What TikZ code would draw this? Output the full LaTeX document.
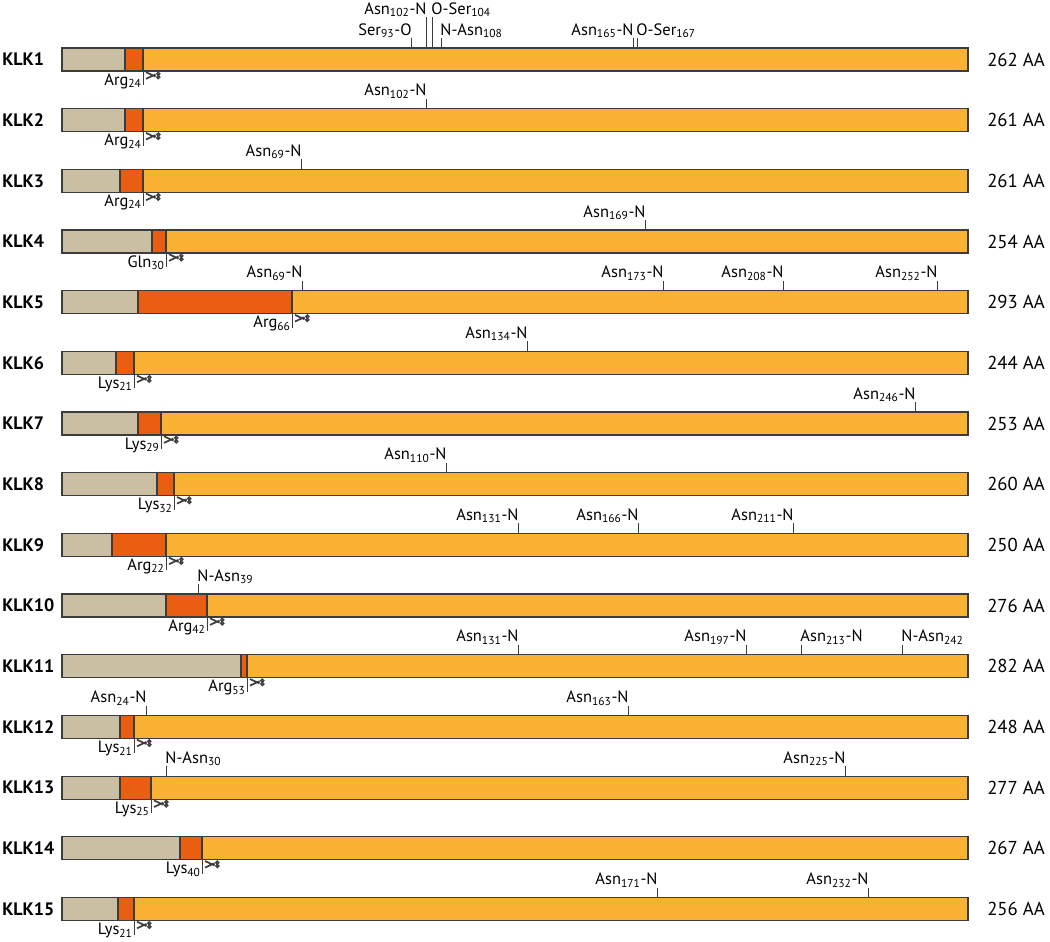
\documentclass[tikz,border=0pt]{standalone}
\usepackage{fontspec}
\setmainfont{PT Sans}
\usetikzlibrary{positioning}
\definecolor{propep}{HTML}{CBBFA3}
\definecolor{actpep}{HTML}{E95E10}
\definecolor{catdom}{HTML}{F9B233}
\definecolor{barink}{HTML}{3C3C3C}
\tikzset{
  seg/.style={draw=barink, line width=0.9pt},
  site/.style={draw=barink, line width=0.7pt},
  sitelabel/.style={font=\fontsize{11.7}{14}\selectfont, inner sep=0pt},
  klklabel/.style={font=\fontsize{12.8}{15}\selectfont\bfseries, anchor=west, inner sep=0pt},
  lenlabel/.style={font=\fontsize{13.3}{16}\selectfont, anchor=west, inner sep=0pt},
  scissors/.pic={
    \draw[barink, line width=1.2pt] (3,1.2) -- (12.5,5.6) (3,7.8) -- (12.5,3.4);
    \draw[barink, line width=1pt] (15.3,2.8) circle[radius=1.5] (15.3,6.2) circle[radius=1.5];
  }
}
% one bar: number, centre y, end of prepeptide, cleavage site, cleavage label, length
\newcommand{\klkrow}[6]{%
  \fill[catdom] (62,#2-11.5) rectangle (968,#2+11.5);
  \fill[propep] (62,#2-11.5) rectangle (#3,#2+11.5);
  \fill[actpep] (#3,#2-11.5) rectangle (#4,#2+11.5);
  \draw[seg] (62,#2-11.5) rectangle (968,#2+11.5);
  \draw[seg] (#3,#2-11.5) -- (#3,#2+11.5);
  \draw[seg] (#4,#2-11.5) -- (#4,#2+11.5);
  \node[klklabel] (klk#1) at (2,#2) {KLK#1};
  \node[lenlabel] (len#1) at (987,#2) {#6 AA};
  \coordinate (cut#1) at (#4,#2+11.5);
  \draw[site] (cut#1) -- ++(0,14) coordinate (cutend#1);
  \node[sitelabel, anchor=base east] (act#1) at (#4-1,#2+25.5) {#5};
  \pic at (cut#1) {scissors};}
% glycosylation site, label left of the tick: name, x, centre y, tick length, label
\newcommand{\siteleft}[5]{%
  \coordinate (#1) at (#2,#3-11.5);
  \draw[site] (#1) -- ++(0,-#4) coordinate (#1t);
  \node[sitelabel, anchor=base east] (#1l) at (#2+0.8,#3-14.5-#4) {#5};}
% glycosylation site, label right of the tick
\newcommand{\siteright}[5]{%
  \coordinate (#1) at (#2,#3-11.5);
  \draw[site] (#1) -- ++(0,-#4) coordinate (#1t);
  \node[sitelabel, anchor=base west] (#1l) at (#2-0.8,#3-14.5-#4) {#5};}

\begin{document}
\begin{tikzpicture}[x=0.025cm, y=-0.025cm]
  \useasboundingbox (0,0) rectangle (1050,941);
  \klkrow{1}{59.5}{125}{143}{Arg\textsubscript{24}}{262}
  \klkrow{2}{120.2}{125}{143}{Arg\textsubscript{24}}{261}
  \klkrow{3}{180.9}{120}{143}{Arg\textsubscript{24}}{261}
  \klkrow{4}{241.5}{152}{166}{Gln\textsubscript{30}}{254}
  \klkrow{5}{302.2}{138}{292}{Arg\textsubscript{66}}{293}
  \klkrow{6}{362.9}{116}{134}{Lys\textsubscript{21}}{244}
  \klkrow{7}{423.6}{138}{161}{Lys\textsubscript{29}}{253}
  \klkrow{8}{484.3}{157}{174}{Lys\textsubscript{32}}{260}
  \klkrow{9}{544.9}{112}{166}{Arg\textsubscript{22}}{250}
  \klkrow{10}{605.6}{166}{207}{Arg\textsubscript{42}}{276}
  \klkrow{11}{666.3}{241}{247}{Arg\textsubscript{53}}{282}
  \klkrow{12}{727}{120}{134}{Lys\textsubscript{21}}{248}
  \klkrow{13}{787.7}{120}{151}{Lys\textsubscript{25}}{277}
  \klkrow{14}{848.3}{180}{202}{Lys\textsubscript{40}}{267}
  \klkrow{15}{909}{118}{134}{Lys\textsubscript{21}}{256}
  % glycosylation sites
  \siteleft{s1a}{411}{59.5}{10}{Ser\textsubscript{93}-O}
  \siteleft{s1b}{426}{59.5}{31}{Asn\textsubscript{102}-N}
  \siteright{s1c}{432}{59.5}{31}{O-Ser\textsubscript{104}}
  \siteright{s1d}{441}{59.5}{10}{N-Asn\textsubscript{108}}
  \siteleft{s1e}{633}{59.5}{10}{Asn\textsubscript{165}-N}
  \siteright{s1f}{637}{59.5}{10}{O-Ser\textsubscript{167}}
  \siteleft{s2a}{426}{120.2}{10}{Asn\textsubscript{102}-N}
  \siteleft{s3a}{301}{180.9}{10}{Asn\textsubscript{69}-N}
  \siteleft{s4a}{645}{241.5}{10}{Asn\textsubscript{169}-N}
  \siteleft{s5a}{302}{302.2}{10}{Asn\textsubscript{69}-N}
  \siteleft{s5b}{663}{302.2}{10}{Asn\textsubscript{173}-N}
  \siteleft{s5c}{783}{302.2}{10}{Asn\textsubscript{208}-N}
  \siteleft{s5d}{937}{302.2}{10}{Asn\textsubscript{252}-N}
  \siteleft{s6a}{527}{362.9}{10}{Asn\textsubscript{134}-N}
  \siteleft{s7a}{915}{423.6}{10}{Asn\textsubscript{246}-N}
  \siteleft{s8a}{446}{484.3}{10}{Asn\textsubscript{110}-N}
  \siteleft{s9a}{518}{544.9}{10}{Asn\textsubscript{131}-N}
  \siteleft{s9b}{638}{544.9}{10}{Asn\textsubscript{166}-N}
  \siteleft{s9c}{793}{544.9}{10}{Asn\textsubscript{211}-N}
  \siteright{s10a}{198}{605.6}{10}{N-Asn\textsubscript{39}}
  \siteleft{s11a}{518}{666.3}{10}{Asn\textsubscript{131}-N}
  \siteleft{s11b}{746}{666.3}{10}{Asn\textsubscript{197}-N}
  \siteright{s11c}{801}{666.3}{10}{Asn\textsubscript{213}-N}
  \siteright{s11d}{902}{666.3}{10}{N-Asn\textsubscript{242}}
  \siteleft{s12a}{146}{727}{10}{Asn\textsubscript{24}-N}
  \siteleft{s12b}{628}{727}{10}{Asn\textsubscript{163}-N}
  \siteright{s13a}{166}{787.7}{10}{N-Asn\textsubscript{30}}
  \siteleft{s13b}{845}{787.7}{10}{Asn\textsubscript{225}-N}
  \siteleft{s15a}{657}{909}{10}{Asn\textsubscript{171}-N}
  \siteleft{s15b}{868}{909}{10}{Asn\textsubscript{232}-N}
\end{tikzpicture}
\end{document}
